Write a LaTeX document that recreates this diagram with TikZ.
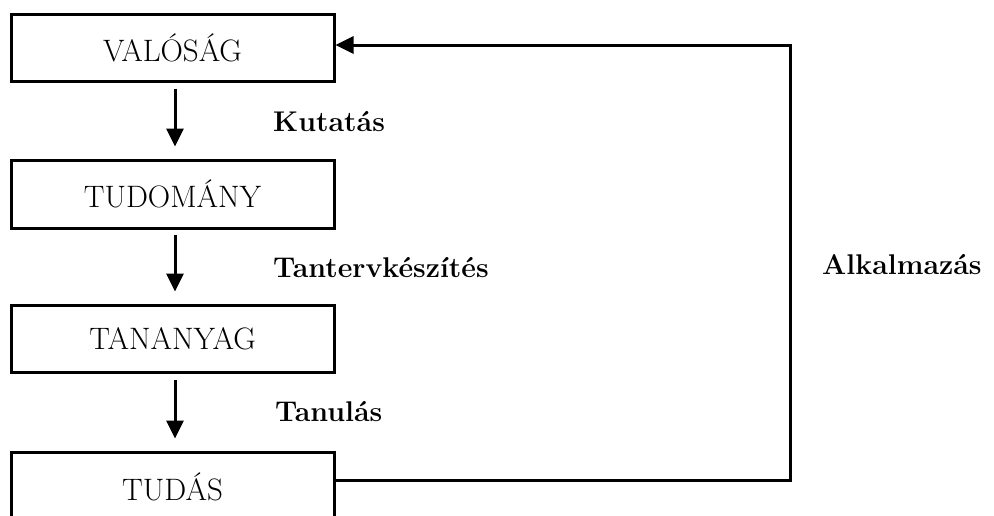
\documentclass[tikz,border=0pt]{standalone}
\usepackage{fontspec}
\usetikzlibrary{arrows.meta}
\begin{document}
\begin{tikzpicture}[x=1pt,y=-1pt,
  box/.style={draw, line width=3pt, minimum width=323pt, inner sep=0pt, font=\fontsize{31}{31}\selectfont},
  arr/.style={line width=3pt, -{Triangle[length=18pt,width=17pt]}},
  lbl/.style={anchor=west, inner sep=0pt, font=\fontsize{28.5}{28.5}\bfseries\selectfont}]
\useasboundingbox (0,0) rectangle (994,515);
\clip (0,0) rectangle (994,515);
\node[box, minimum height=67pt] (t1) at (172.5,47.5) {VALÓSÁG};
\node[box, minimum height=68pt] (t2) at (172.5,194) {TUDOMÁNY};
\node[box, minimum height=67pt] (t3) at (172.5,338.5) {TANANYAG};
\node[box, minimum height=70pt] (t4) at (172.5,487) {TUDÁS};
\draw[arr, shorten <=6pt, shorten >=12pt] ([xshift=2.5pt]t1.south) -- ([xshift=2.5pt]t2.north);
\draw[arr, shorten <=5pt, shorten >=12pt] ([xshift=2.5pt]t2.south) -- ([xshift=2.5pt]t3.north);
\draw[arr, shorten <=6pt, shorten >=12pt] ([xshift=2.5pt]t3.south) -- ([xshift=2.5pt]t4.north);
\node[lbl] (l1) at (273,122) {Kutatás};
\node[lbl] (l2) at (273,268) {Tantervkészítés};
\node[lbl] (l3) at (275,412) {Tanulás};
\node[lbl] (l4) at (822,265) {Alkalmazás};
\coordinate (fb) at (790,45);
\draw[arr, -{Triangle[length=18pt,width=17pt]}] ([yshift=7pt]t4.east) -| (fb) -- (fb -| t1.east);
\end{tikzpicture}
\end{document}
